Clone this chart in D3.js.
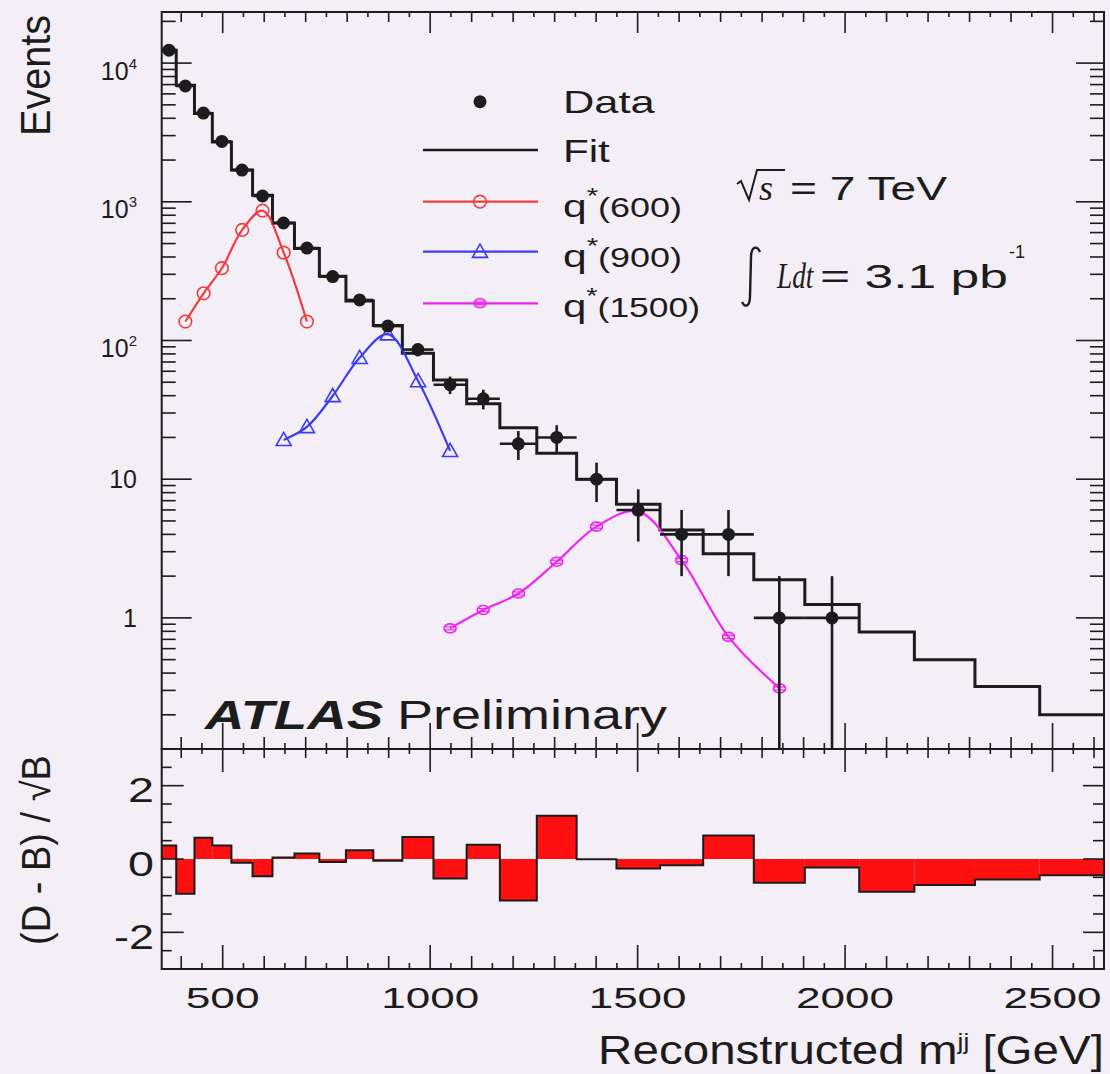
<!DOCTYPE html>
<html>
<head>
<meta charset="utf-8">
<script src="https://cdn.jsdelivr.net/npm/d3@7"></script>
<style>
  html, body { margin: 0; padding: 0; background: #f4eff7; }
  svg { display: block; }
</style>
</head>
<body>
<svg id="chart" width="1110" height="1074"></svg>
<script>
// ---- data ----------------------------------------------------------------
// dijet mass bin edges [GeV]
const binEdges = [353, 388, 432, 475, 521, 572, 620, 673, 733, 797, 863, 933, 1008, 1088,
                  1168, 1257, 1353, 1449, 1554, 1658, 1780, 1903, 2034, 2167, 2313, 2469, 2624];
// observed events per bin
const dataCounts = [12400, 6840, 4365, 2723, 1694, 1101, 703, 464, 289, 196, 127, 86, 48, 38,
                    18, 20, 10, 6, 4, 4, 1, 1];
// background fit per bin
const fitValues = [12359, 6919, 4327, 2704, 1698, 1117, 702, 461, 290, 193, 128, 81, 52, 35,
                   23.5, 15.4, 10, 6.6, 4.3, 2.9, 1.88, 1.25, 0.79, 0.5, 0.32, 0.2];
// (D - B) / sqrt(B) per bin
const significance = [0.37, -0.95, 0.58, 0.37, -0.10, -0.47, 0.04, 0.15, -0.08, 0.24, -0.05, 0.60,
                      -0.53, 0.39, -1.13, 1.18, -0.01, -0.26, -0.17, 0.64, -0.65, -0.23, -0.89,
                      -0.71, -0.56, -0.44];
// excited-quark signal templates
const q600Mass = [410, 454, 498, 547, 596, 647, 703];
const q600Events = [137, 219, 332, 627, 863, 430, 137];
const q900Mass = [647, 703, 765, 830, 898, 971, 1048];
const q900Events = [19.2, 23.8, 39.8, 75, 111, 51, 16];
const q1500Mass = [1048, 1128, 1213, 1305, 1401, 1502, 1606, 1719, 1842];
const q1500Events = [0.84, 1.14, 1.50, 2.54, 4.55, 5.84, 2.61, 0.73, 0.31];
// axis ticks and labels
const massTicks = [500, 1000, 1500, 2000, 2500];
const massTickLabels = ["500", "1000", "1500", "2000", "2500"];
const eventTicks = [1, 10, 100, 1000, 10000];
const eventTickLabels = [["1", ""], ["10", ""], ["10", "2"], ["10", "3"], ["10", "4"]];
const sigTicks = [-2, 0, 2];
const sigTickLabels = ["-2", "0", "2"];

// ---- layout --------------------------------------------------------------
const W = 1110, H = 1074;
const left = 161.7, right = 1104;
const topY = 12, splitY = 749, bottomY = 969;
const ink = "#1c1c1c";
const cRed = "#ef3c3c", cBlue = "#3b3bf2", cMag = "#f025f0";
const sans = "'Liberation Sans', Arial, Helvetica, sans-serif";
const serif = "'Liberation Serif', 'Times New Roman', serif";

const svg = d3.select("#chart");
svg.append("rect").attr("width", W).attr("height", H).attr("fill", "#f4eff7");

const x = d3.scaleLinear().domain([binEdges[0], binEdges[binEdges.length - 1]]).range([left, right]);
const y = d3.scaleLog().domain([0.1134, 23360]).range([splitY, topY]);
const yr = d3.scaleLinear().domain([-3, 3]).range([bottomY, splitY]);

// text helper: places text and optionally stretches it to a target width
function label(parent, px, py, parts, o = {}) {
  const g = parent.append("g");
  const t = g.append("text")
    .attr("text-anchor", o.anchor || "start")
    .attr("fill", o.color || ink)
    .style("font-family", o.family || sans)
    .style("font-size", (o.size || 30) + "px");
  if (o.weight) t.style("font-weight", o.weight);
  if (o.italic) t.style("font-style", "italic");
  (typeof parts === "string" ? [{ t: parts }] : parts).forEach(p => {
    const s = t.append("tspan").text(p.t);
    if (p.size) s.style("font-size", p.size + "px");
    if (p.dy) s.attr("dy", p.dy);
    if (p.family) s.style("font-family", p.family);
    if (p.italic) s.style("font-style", "italic");
  });
  let sx = 1;
  if (o.width) sx = o.width / t.node().getBBox().width;
  const rot = o.rotate ? ` rotate(${o.rotate})` : "";
  g.attr("transform", `translate(${px},${py})${rot} scale(${sx},1)`);
  return g;
}

// ---- upper panel: log-scale spectrum --------------------------------------
const spec = svg.append("g");

// background fit as a step histogram
let fitPath = `M${x(binEdges[0])},${y(fitValues[0])}`;
fitValues.forEach((v, i) => {
  if (i > 0) fitPath += `V${y(v)}`;
  fitPath += `H${x(binEdges[i + 1])}`;
});
spec.append("path").attr("d", fitPath).attr("fill", "none")
  .attr("stroke", ink).attr("stroke-width", 3);

// signal curves
const sigLine = d3.line().x(d => x(d[0])).y(d => y(d[1])).curve(d3.curveCatmullRom.alpha(0.5));
function signal(mass, ev, color, marker) {
  const pts = mass.map((m, i) => [m, ev[i]]);
  spec.append("path").attr("d", sigLine(pts)).attr("fill", "none")
    .attr("stroke", color).attr("stroke-width", 2.2);
  pts.forEach(p => marker(spec, x(p[0]), y(p[1]), color));
}
function circleMark(g, cx, cy, color) {
  g.append("circle").attr("cx", cx).attr("cy", cy).attr("r", 6.3)
    .attr("fill", "none").attr("stroke", color).attr("stroke-width", 1.6);
}
function triMark(g, cx, cy, color) {
  const s = 7.5;
  g.append("path").attr("d", `M${cx},${cy - s}L${cx + s},${cy + s * 0.75}L${cx - s},${cy + s * 0.75}Z`)
    .attr("fill", "none").attr("stroke", color).attr("stroke-width", 1.6);
}
function ovalMark(g, cx, cy, color) {
  g.append("ellipse").attr("cx", cx).attr("cy", cy).attr("rx", 6).attr("ry", 4.5)
    .attr("fill", "none").attr("stroke", color).attr("stroke-width", 1.6);
  g.append("line").attr("x1", cx - 6).attr("x2", cx + 6).attr("y1", cy - 1.5).attr("y2", cy - 1.5)
    .attr("stroke", color).attr("stroke-width", 1.2);
  g.append("line").attr("x1", cx - 6).attr("x2", cx + 6).attr("y1", cy + 1.5).attr("y2", cy + 1.5)
    .attr("stroke", color).attr("stroke-width", 1.2);
}
signal(q600Mass, q600Events, cRed, circleMark);
signal(q900Mass, q900Events, cBlue, triMark);
signal(q1500Mass, q1500Events, cMag, ovalMark);

// data with Poisson error bars
const yMin = y.domain()[0];
dataCounts.forEach((n, i) => {
  const cx = (x(binEdges[i]) + x(binEdges[i + 1])) / 2;
  const err = Math.sqrt(n);
  const lo = n - err > yMin ? y(n - err) : splitY;
  spec.append("line").attr("x1", x(binEdges[i])).attr("x2", x(binEdges[i + 1]))
    .attr("y1", y(n)).attr("y2", y(n)).attr("stroke", ink).attr("stroke-width", 2.6);
  spec.append("line").attr("x1", cx).attr("x2", cx).attr("y1", y(n + err)).attr("y2", lo)
    .attr("stroke", ink).attr("stroke-width", 2.6);
  spec.append("circle").attr("cx", cx).attr("cy", y(n)).attr("r", 6.5).attr("fill", ink);
});

// ---- lower panel: significance --------------------------------------------
const bot = svg.append("g");
significance.forEach((r, i) => {
  bot.append("rect").attr("x", x(binEdges[i])).attr("width", x(binEdges[i + 1]) - x(binEdges[i]))
    .attr("y", Math.min(yr(0), yr(r))).attr("height", Math.abs(yr(r) - yr(0)))
    .attr("fill", "#ff1010");
});
let sigPath = `M${x(binEdges[0])},${yr(significance[0])}`;
significance.forEach((r, i) => {
  if (i > 0) sigPath += `V${yr(r)}`;
  sigPath += `H${x(binEdges[i + 1])}`;
});
bot.append("path").attr("d", sigPath).attr("fill", "none").attr("stroke", ink).attr("stroke-width", 2);

// ---- axes ----------------------------------------------------------------
const axes = svg.append("g").attr("stroke", ink);
function tick(x1, y1, x2, y2, w = 1.6) {
  axes.append("line").attr("x1", x1).attr("y1", y1).attr("x2", x2).attr("y2", y2).attr("stroke-width", w);
}
// mass ticks every 50 GeV on all horizontal frame lines
const massMinor = d3.range(400, 2624, 50);
massMinor.forEach(m => {
  const px = x(m);
  const major = m % 500 === 0, mid = m % 100 === 0;
  tick(px, splitY, px, splitY - (major ? 26 : mid ? 12 : 6));
  tick(px, topY, px, topY + (major ? 21 : mid ? 10 : 5));
  tick(px, splitY, px, splitY + (major ? 23 : mid ? 9 : 5));
  tick(px, bottomY, px, bottomY - (major ? 24 : mid ? 13 : 6));
});
// log ticks on the event axis
const logTicks = [];
for (let e = -1; e <= 4; e++) for (let k = 1; k <= 9; k++) {
  const v = k * Math.pow(10, e);
  if (v >= y.domain()[0] && v <= y.domain()[1]) logTicks.push([v, k === 1]);
}
logTicks.forEach(([v, major]) => {
  tick(left, y(v), left + (major ? 30 : 14), y(v));
  tick(right, y(v), right - (major ? 28 : 14), y(v));
});
// significance ticks
d3.range(-3, 3.01, 0.5).forEach(v => {
  const major = Math.abs(v % 2) < 1e-6;
  tick(left, yr(v), left + (major ? 22 : 10), yr(v));
  tick(right, yr(v), right - (major ? 21 : 11), yr(v));
});
// frames
axes.append("rect").attr("x", left).attr("y", topY).attr("width", right - left)
  .attr("height", splitY - topY).attr("fill", "none").attr("stroke-width", 2);
axes.append("rect").attr("x", left).attr("y", splitY).attr("width", right - left)
  .attr("height", bottomY - splitY).attr("fill", "none").attr("stroke-width", 2);

// ---- tick labels ----------------------------------------------------------
const txt = svg.append("g");
massTicks.forEach((m, i) => {
  label(txt, x(m), 1008, massTickLabels[i], { anchor: "middle", size: 30, width: m < 1000 ? 74 : 98 });
});
eventTicks.forEach((v, i) => {
  const [base, sup] = eventTickLabels[i];
  if (sup) {
    label(txt, 137, y(v) + 16.5, [{ t: base }, { t: sup, size: 15, dy: -11 }], { anchor: "end", size: 25 });
  } else {
    label(txt, 137, y(v) + 9, base, { anchor: "end", size: 25 });
  }
});
sigTicks.forEach((v, i) => {
  label(txt, 154, yr(v) + 16.5, sigTickLabels[i], { anchor: "end", size: 35, width: v < 0 ? 40 : 26 });
});

// ---- axis titles ----------------------------------------------------------
label(txt, 50, 136, "Events", { size: 42, rotate: -90, width: 121 });
label(txt, 50, 945, "(D - B) / \u221AB", { size: 40, rotate: -90, width: 190 });
label(txt, 1104, 1064, [{ t: "Reconstructed m" }, { t: "jj", size: 22, dy: -15 }, { t: " [GeV]", dy: 15 }],
  { anchor: "end", size: 40, width: 506 });

// ---- legend ---------------------------------------------------------------
const leg = svg.append("g");
const legX1 = 423, legX2 = 538, legMid = 480, legText = 563;
leg.append("circle").attr("cx", legMid).attr("cy", 101.7).attr("r", 6.5).attr("fill", ink);
label(leg, legText, 113, "Data", { size: 32, width: 92 });
leg.append("line").attr("x1", legX1).attr("x2", legX2).attr("y1", 150).attr("y2", 150)
  .attr("stroke", ink).attr("stroke-width", 2.6);
label(leg, legText, 162, "Fit", { size: 32, width: 47 });
[[201.7, 217, cRed, circleMark, "600", 119],
 [251.7, 267, cBlue, triMark, "900", 119],
 [303.3, 317, cMag, ovalMark, "1500", 137]].forEach(([ly, by, col, mk, mass, w]) => {
  leg.append("line").attr("x1", legX1).attr("x2", legX2).attr("y1", ly).attr("y2", ly)
    .attr("stroke", col).attr("stroke-width", 2.2);
  mk(leg, legMid, ly, col);
  label(leg, legText, by, [{ t: "q" }, { t: "*", size: 22, dy: -14 }, { t: "(" + mass + ")", size: 27, dy: 14 }],
    { size: 32, width: w });
});

// ---- annotations ----------------------------------------------------------
const ann = svg.append("g");
ann.append("path").attr("d", "M737,184 L741,181 L749,200 L757,170 L785,170")
  .attr("fill", "none").attr("stroke", ink).attr("stroke-width", 2);
label(ann, 759, 200, "s", { family: serif, italic: true, size: 36 });
label(ann, 790, 200, "= 7 TeV", { size: 33, width: 157 });
ann.append("path").attr("d", "M760,252 C757,245 751,246 751,258 L750,296 C750,307 745,308 742,302")
  .attr("fill", "none").attr("stroke", ink).attr("stroke-width", 2.4);
label(ann, 777, 288, "Ldt", { family: serif, italic: true, size: 36, width: 38 });
label(ann, 820, 288, "= 3.1 pb", { size: 33, width: 188 });
label(ann, 1009, 258, "-1", { size: 19, width: 16 });

label(ann, 205, 729, "ATLAS", { size: 40, weight: "bold", italic: true, width: 180 });
label(ann, 397, 729, "Preliminary", { size: 40, width: 270 });
</script>
</body>
</html>
